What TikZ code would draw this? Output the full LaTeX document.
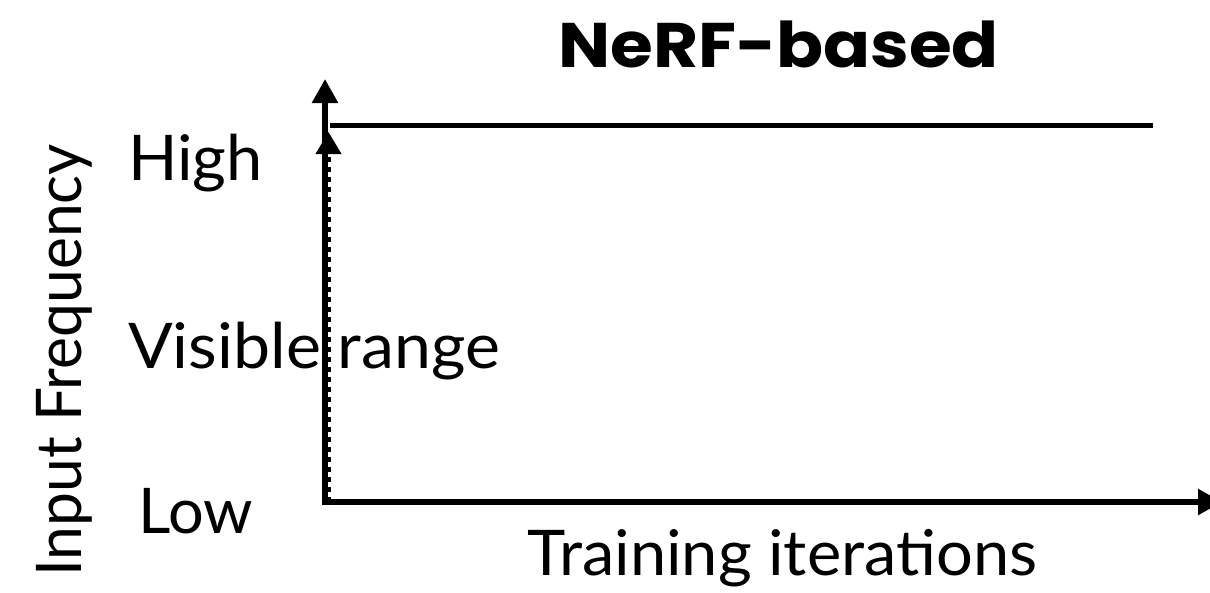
\documentclass[tikz,border=0pt]{standalone}
\usepackage{fontspec}
\usepackage{graphicx}
\setmainfont{Lato}
\newfontfamily\headfont{Poppins}
\usetikzlibrary{arrows.meta}
\begin{document}
\begin{tikzpicture}[x=1pt,y=-1pt,
  lbl/.style={inner sep=0pt,font=\fontsize{63}{70}\selectfont},
  ttl/.style={inner sep=0pt,font=\headfont\fontsize{63}{70}\selectfont\bfseries},
  axis/.style={line width=5.5pt,-{Triangle[length=24pt,width=25pt]}},
  level/.style={line width=5pt},
  visible/.style={line width=4pt,dash pattern=on 5pt off 5pt,-{Triangle[length=22pt,width=25pt]}}]
  \useasboundingbox (0,0) rectangle (1210,592);
  % axes, visible-range arrow and the flat frequency level
  \coordinate (o) at (325,502);
  \coordinate (ytop) at (325,79);
  \coordinate (xo) at (322,502);
  \coordinate (xend) at (1222,502);
  \coordinate (vo) at (328.5,502);
  \coordinate (vtop) at (328.5,132);
  \coordinate (hs) at (330,125.5);
  \coordinate (he) at (1153,125.5);
  \draw[visible] (vo) -- (vtop);
  \draw[axis] (o) -- (ytop);
  \draw[axis] (xo) -- (xend);
  \draw[level] (hs) -- (he);
  % labels
  \node[ttl,anchor=base] (title) at (778.5,67) {\scalebox{1.1}[1]{NeRF-based}};
  \node[lbl,anchor=base west] (high) at (128,180) {\scalebox{1.03}[1]{High}};
  \node[lbl,anchor=base west] (vis) at (128,368) {\scalebox{1.05}[1]{Visible range}};
  \node[lbl,anchor=base west] (low) at (138,533) {Low};
  \node[lbl,anchor=base west,rotate=90] (ylab) at (81,577) {\scalebox{0.96}[1]{Input Frequency}};
  \node[lbl,anchor=base] (xlab) at (782.5,575) {\scalebox{1.03}[1]{Training iterations}};
\end{tikzpicture}
\end{document}
